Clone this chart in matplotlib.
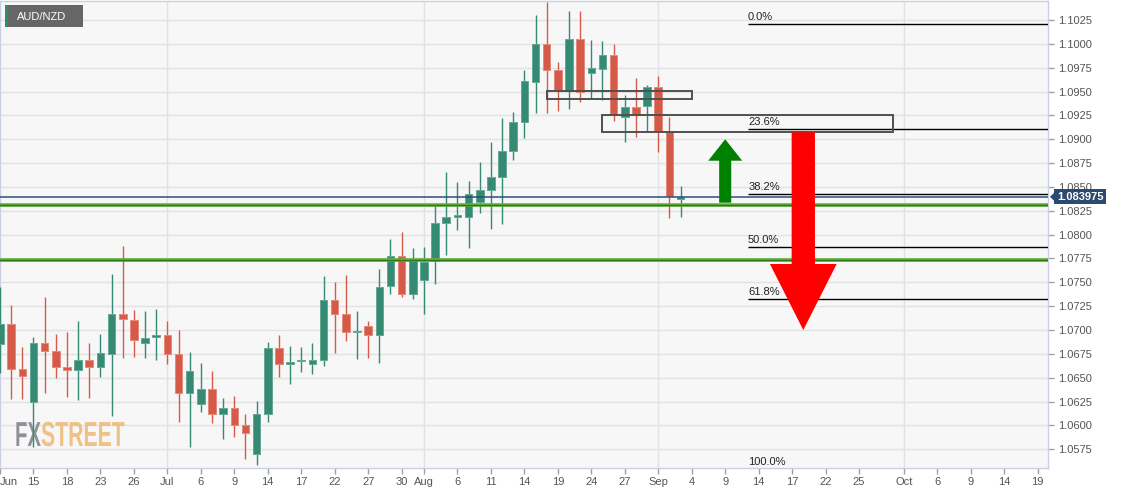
import numpy as np
import matplotlib
matplotlib.use('Agg')
import matplotlib.pyplot as plt
import matplotlib.patheffects as pe
from matplotlib.patches import Rectangle, Polygon
from matplotlib.ticker import FormatStrFormatter
from matplotlib.transforms import blended_transform_factory, Affine2D

plt.rcParams['font.family'] = ['Liberation Sans', 'DejaVu Sans']

# ---------------- data ----------------
open_ = [1.06854, 1.07064, 1.06595, 1.06242, 1.06861, 1.06784, 1.06613, 1.06581, 1.06686, 1.06609,
         1.06753, 1.07168, 1.07109, 1.06861, 1.06924, 1.06948, 1.06749, 1.06344, 1.06222, 1.06379,
         1.06120, 1.06180, 1.06005, 1.05697, 1.06120, 1.06808, 1.06648, 1.06672, 1.06641, 1.06686,
         1.07319, 1.07165, 1.06976, 1.07039, 1.06948, 1.07459, 1.07776, 1.07381, 1.07528, 1.07721,
         1.08125, 1.08185, 1.08188, 1.08339, 1.08468, 1.08607, 1.08880, 1.09184, 1.09597, 1.10002,
         1.09726, 1.09509, 1.10051, 1.09698, 1.09740, 1.09883, 1.09236, 1.09335, 1.09349, 1.09545,
         1.09087, 1.08374]
high = [1.07448, 1.07259, 1.06819, 1.06924, 1.07350, 1.06955, 1.06976, 1.07095, 1.06861, 1.06955,
        1.07588, 1.07881, 1.07207, 1.07200, 1.07221, 1.07092, 1.07001, 1.06767, 1.06651, 1.06567,
        1.06288, 1.06309, 1.06120, 1.06253, 1.06871, 1.06945, 1.06833, 1.06819, 1.06861, 1.07567,
        1.07500, 1.07581, 1.07200, 1.07095, 1.07637, 1.07951, 1.08025, 1.07857, 1.07867, 1.08300,
        1.08654, 1.08549, 1.08562, 1.08758, 1.08968, 1.09220, 1.09283, 1.09723, 1.10302, 1.10442,
        1.09813, 1.10344, 1.10344, 1.10040, 1.10030, 1.09998, 1.09461, 1.09639, 1.09569, 1.09660,
        1.09230, 1.08513]
low = [1.06546, 1.06281, 1.06281, 1.05777, 1.06344, 1.06494, 1.06295, 1.06263, 1.06284, 1.06505,
       1.06099, 1.06704, 1.06721, 1.06704, 1.06683, 1.06641, 1.06040, 1.05778, 1.06145, 1.06029,
       1.05855, 1.05876, 1.05645, 1.05586, 1.06040, 1.06505, 1.06431, 1.06557, 1.06536, 1.06627,
       1.06763, 1.06882, 1.06693, 1.06704, 1.06658, 1.07375, 1.07350, 1.07329, 1.07165, 1.07480,
       1.07787, 1.08049, 1.07857, 1.08230, 1.08062, 1.08109, 1.08779, 1.09010, 1.09272, 1.09272,
       1.09296, 1.09314, 1.09387, 1.09429, 1.09411, 1.09194, 1.08974, 1.09020, 1.09079, 1.08863,
       1.08178, 1.08188]
close = [1.07064, 1.06595, 1.06518, 1.06861, 1.06784, 1.06613, 1.06581, 1.06686, 1.06609, 1.06756,
         1.07168, 1.07112, 1.06896, 1.06920, 1.06948, 1.06749, 1.06344, 1.06567, 1.06379, 1.06120,
         1.06180, 1.06005, 1.05918, 1.06120, 1.06808, 1.06648, 1.06655, 1.06686, 1.06686, 1.07319,
         1.07165, 1.06976, 1.06983, 1.06948, 1.07448, 1.07776, 1.07381, 1.07742, 1.07713, 1.08125,
         1.08185, 1.08190, 1.08426, 1.08468, 1.08607, 1.08880, 1.09184, 1.09614, 1.10002, 1.09726,
         1.09509, 1.10051, 1.09492, 1.09750, 1.09883, 1.09254, 1.09335, 1.09254, 1.09545, 1.09090,
         1.08405, 1.083975]

tick_pos = [0, 3, 6, 9, 12, 15, 18, 21, 24, 27, 30, 33, 36, 38, 41, 44, 47, 50, 53, 56, 59,
            62, 65, 68, 71, 74, 77, 81, 84, 87, 90, 93]
tick_labels = ['Jun', '15', '18', '23', '26', 'Jul', '6', '9', '14', '17', '22', '27', '30', 'Aug',
               '6', '11', '14', '19', '24', '27', 'Sep', '4', '9', '14', '17', '22', '25', 'Oct',
               '6', '9', '14', '19']
month_starts = [15, 38, 59, 81]
y_ticks = [1.0575, 1.0600, 1.0625, 1.0650, 1.0675, 1.0700, 1.0725, 1.0750, 1.0775, 1.0800,
           1.0825, 1.0850, 1.0875, 1.0900, 1.0925, 1.0950, 1.0975, 1.1000, 1.1025]

support_levels = [1.0831, 1.0773]
current_price = 1.083975
fib_high = 1.1021
fib_low = 1.0554
fib_ratios = [0.0, 0.236, 0.382, 0.5, 0.618, 1.0]
fib_labels = ['0.0%', '23.6%', '38.2%', '50.0%', '61.8%', '100.0%']
fib_start = 67
zone_boxes = [(49, 62, 1.0942, 1.0951), (54, 80, 1.0908, 1.0925)]
up_arrow = dict(x=65.0, tip=1.0900, head_base=1.08775, tail=1.08335, head_half=1.52, shaft_half=0.54)
down_arrow = dict(x=72.0, tip=1.0700, head_base=1.07692, tail=1.09073, head_half=2.99, shaft_half=1.045)

# ---------------- figure ----------------
W, H = 1125, 493
fig = plt.figure(figsize=(W / 100, H / 100), dpi=100)
fig.patch.set_facecolor('white')
ax_left, ax_right, ax_top, ax_bottom = 0.0, 1048.3, 1.0, 467.7
ax = fig.add_axes([ax_left / W, 1 - ax_bottom / H, (ax_right - ax_left) / W, (ax_bottom - ax_top) / H])
ax.set_facecolor('#f7f7f7')
XMAX = 93.96
ax.set_xlim(0, XMAX)
ax.set_ylim(1.05557, 1.10449)

# grid
ax.set_yticks(y_ticks)
ax.yaxis.set_major_formatter(FormatStrFormatter('%.4f'))
ax.grid(axis='y', color='#e2e2e2', lw=1.0, zorder=0)
for m in month_starts:
    ax.axvline(m, color='#e2e2e2', lw=1.0, zorder=0)
ax.set_axisbelow(True)

# candles
x = np.arange(len(open_))
o = np.array(open_)
c = np.array(close)
up = c >= o
body_col = np.where(up, '#348a73', '#d65a48')
edge_col = np.where(up, '#66a895', '#e38a7c')
ax.vlines(x, low, high, colors=body_col, lw=1.0, zorder=3)
bottoms = np.minimum(o, c)
heights = np.maximum(np.abs(c - o), 0.00016)
ax.bar(x, heights, bottom=bottoms, width=0.68, color=body_col, edgecolor=edge_col,
       linewidth=0.7, zorder=4)

# horizontal levels
for lvl in support_levels:
    ax.axhline(lvl, color='#67b041', lw=2.6, zorder=5)
    ax.axhline(lvl, color='#2c7a16', lw=1.0, zorder=5)
ax.axhline(current_price, color='#2c4f7c', lw=1.1, zorder=5)

# fibonacci
for r, lab in zip(fib_ratios, fib_labels):
    lvl = fib_high - r * (fib_high - fib_low)
    ax.hlines(lvl, fib_start, XMAX, color='black', lw=1.0, zorder=5)
    ax.text(fib_start + 0.05, lvl + 0.0002, lab, fontsize=8, color='#222222',
            va='bottom', ha='left', zorder=6, clip_on=False)

# zone boxes
for x0, x1, y0, y1 in zone_boxes:
    ax.add_patch(Rectangle((x0, y0), x1 - x0, y1 - y0, fill=False, edgecolor='#505050',
                           lw=1.4, zorder=6))

# arrows
def arrow_poly(a):
    xc = a['x']
    return [(xc - a['shaft_half'], a['tail']), (xc + a['shaft_half'], a['tail']),
            (xc + a['shaft_half'], a['head_base']), (xc + a['head_half'], a['head_base']),
            (xc, a['tip']), (xc - a['head_half'], a['head_base']),
            (xc - a['shaft_half'], a['head_base'])]

ax.add_patch(Polygon(arrow_poly(up_arrow), closed=True, facecolor='#008000', edgecolor='none', zorder=7))
ax.add_patch(Polygon(arrow_poly(down_arrow), closed=True, facecolor='#ff0000', edgecolor='none', zorder=7))

# axes styling
ax.yaxis.tick_right()
ax.tick_params(axis='y', which='both', length=4, width=1, color='#a0a0a0', labelcolor='#555555',
               labelsize=8, pad=3)
ax.set_xticks(tick_pos)
ax.set_xticklabels(tick_labels)
ax.tick_params(axis='x', length=4, width=1, color='#a0a0a0', labelcolor='#555555', labelsize=8, pad=3)
ax.get_xticklabels()[0].set_horizontalalignment('left')
for sp in ax.spines.values():
    sp.set_color('#c9d0e3')
    sp.set_linewidth(1.0)

# current price tag
tr = blended_transform_factory(ax.transAxes, ax.transData)
ax.text(1057 / ax_right, current_price, '1.083975', transform=tr, fontsize=8, fontweight='bold',
        color='white', va='center', ha='left', zorder=20, clip_on=False,
        bbox=dict(boxstyle='square,pad=0.25', facecolor='#2b4a70', edgecolor='none'))
fig.add_artist(Polygon([(1050 / W, 1 - 196.8 / H), (1055 / W, 1 - 192 / H), (1055 / W, 1 - 201.6 / H)],
                       closed=True, facecolor='#2b4a70', edgecolor='none', transform=fig.transFigure,
                       zorder=20))

# top-left symbol label
fig.add_artist(Rectangle((5 / W, 1 - 27 / H), 78 / W, 22 / H, facecolor='#666666', edgecolor='none',
                         transform=fig.transFigure, zorder=20))
fig.add_artist(Rectangle((5 / W, 1 - 27 / H), 3 / W, 22 / H, facecolor='#2e8b6e', edgecolor='none',
                         transform=fig.transFigure, zorder=21))
fig.text(16.5 / W, 1 - 16.5 / H, 'AUD/NZD', color='white', fontsize=8, va='center', ha='left', zorder=22)


# watermark: condensed look = narrower font size stretched vertically (still real text)
class StretchY(pe.AbstractPathEffect):
    def __init__(self, sy, y0):
        super().__init__()
        self.sy = sy
        self.y0 = y0

    def draw_path(self, renderer, gc, tpath, affine, rgbFace=None):
        aff = affine + Affine2D().translate(0, -self.y0).scale(1, self.sy).translate(0, self.y0)
        renderer.draw_path(gc, tpath, aff, rgbFace)


logo_left, logo_split, logo_right, logo_base, logo_fs = 15.0, 41.0, 125.0, 446.0, 25.0
t_fx = ax.text(logo_left / W, 1 - logo_base / H, 'FX', transform=fig.transFigure, color='#8e9197',
               fontsize=logo_fs, fontweight='bold', va='baseline', ha='left', zorder=1)
t_st = ax.text(logo_split / W, 1 - logo_base / H, 'STREET', transform=fig.transFigure, color='#f0c185',
               fontsize=logo_fs, fontweight='bold', va='baseline', ha='left', zorder=1)
fig.canvas.draw()
rend = fig.canvas.get_renderer()
base_disp = H - logo_base
for t, target in ((t_fx, logo_split - logo_left), (t_st, logo_right - logo_split)):
    w = t.get_window_extent(rend).width
    fs = logo_fs * target / w
    t.set_fontsize(fs)
    t.set_path_effects([StretchY(logo_fs / fs, base_disp)])

fig.savefig('out.png', dpi=100, facecolor='white')
